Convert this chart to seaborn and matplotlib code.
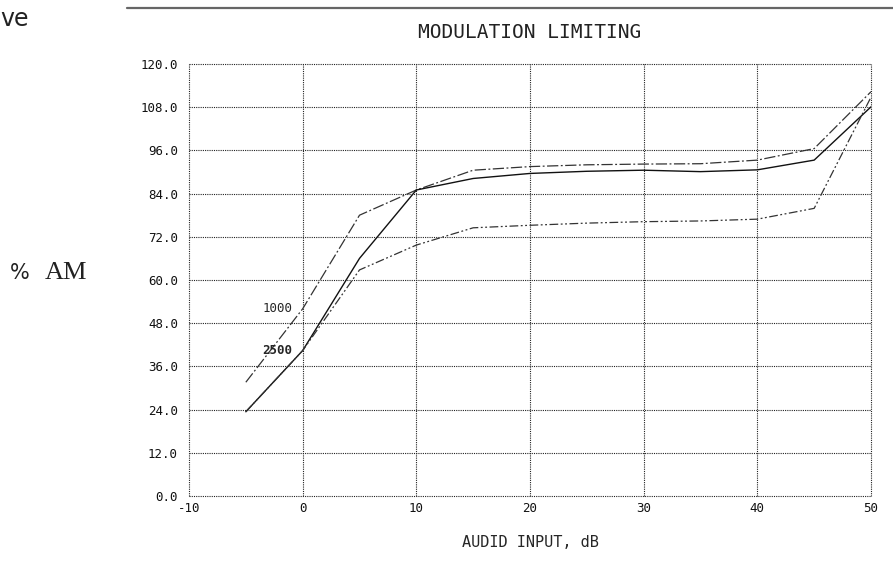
import matplotlib
matplotlib.use("Agg")
import matplotlib.pyplot as plt
import matplotlib.lines as mlines
import seaborn as sns
import pandas as pd

# ---- data ----
audio_db = [-5, 0, 5, 10, 15, 20, 25, 30, 35, 40, 45, 50]
am_1000 = [31.6, 52.0, 78.0, 85.0, 90.5, 91.5, 92.0, 92.2, 92.3, 93.3, 96.5, 112.3]
am_solid = [23.4, 40.4, 66.0, 85.0, 88.2, 89.6, 90.2, 90.5, 90.1, 90.6, 93.3, 108.1]
am_2500 = [23.4, 40.4, 62.8, 69.7, 74.5, 75.2, 75.8, 76.2, 76.4, 76.9, 79.9, 110.8]
x_ticks = [-10, 0, 10, 20, 30, 40, 50]
y_ticks = [0, 12, 24, 36, 48, 60, 72, 84, 96, 108, 120]
title = "MODULATION LIMITING"
x_label = "AUDID INPUT, dB"

sns.set_style("white")
plt.rcParams['font.family'] = ['DejaVu Sans Mono', 'DejaVu Sans']

fig = plt.figure(figsize=(8.93, 5.65), dpi=100)
ax = fig.add_axes([189/893, 1 - 496/565, (871-189)/893, (496-64)/565])

df = pd.DataFrame({"x": audio_db, "a": am_1000, "s": am_solid, "c": am_2500})
sns.lineplot(data=df, x="x", y="a", ax=ax, color="#333333", lw=0.9,
             linestyle=(0, (9, 2, 1.5, 2)))
sns.lineplot(data=df, x="x", y="s", ax=ax, color="#111111", lw=1.0)
sns.lineplot(data=df, x="x", y="c", ax=ax, color="#333333", lw=0.9,
             linestyle=(0, (7, 2, 1.5, 2, 1.5, 2)))

ax.set_xlim(-10, 50)
ax.set_ylim(0, 120)
ax.set_xticks(x_ticks)
ax.set_xticklabels([str(v) for v in x_ticks])
ax.set_yticks(y_ticks)
ax.set_yticklabels([f"{v:.1f}" for v in y_ticks])
ax.tick_params(axis='both', length=0, labelsize=9, colors="#111111")
ax.tick_params(axis='y', pad=8)
ax.tick_params(axis='x', pad=4)
ax.grid(True, color="#222222", linestyle=(0, (1, 1)), linewidth=0.8)
for gl in ax.get_xgridlines() + ax.get_ygridlines():
    gl.set_clip_on(False)
for sp in ax.spines.values():
    sp.set_visible(False)
ax.set_xlabel(x_label, fontsize=11, labelpad=15)
ax.set_ylabel("")
ax.set_title(title, fontsize=14, pad=19, color="#222222")

ax.text(-0.9, 52.2, "1000", fontsize=9, ha='right', va='center')
ax.text(-0.9, 40.3, "2500", fontsize=9, ha='right', va='center', fontweight='bold')

fig.text(0 / 893, 1 - 19 / 565, "ve", fontsize=17, family='DejaVu Sans',
         ha='left', va='center', color="#222222")
fig.text(10 / 893, 1 - 273 / 565, "%", fontsize=15, family='DejaVu Sans',
         ha='left', va='center', color="#222222")
fig.text(45 / 893, 1 - 273 / 565, "AM", fontsize=19, family='Liberation Serif',
         ha='left', va='center', color="#222222")
fig.add_artist(mlines.Line2D([127/893, 1.0], [1 - 7.5/565, 1 - 7.5/565],
                             color="#666666", lw=1.6, transform=fig.transFigure))

fig.savefig("out.png", dpi=100)
